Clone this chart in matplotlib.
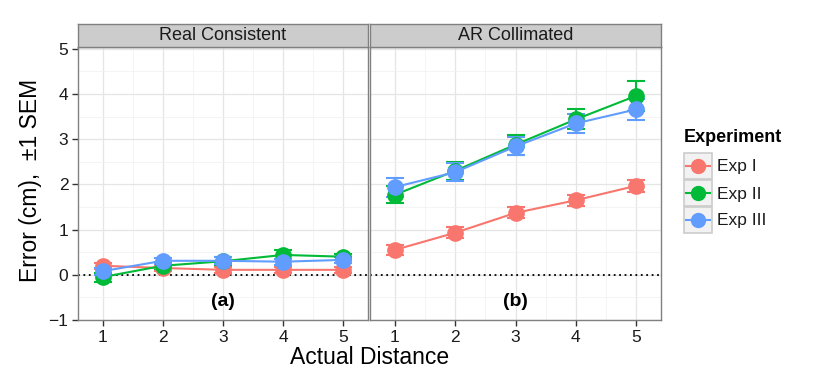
import numpy as np
import matplotlib
matplotlib.use("Agg")
import matplotlib.pyplot as plt
from matplotlib.patches import Rectangle

plt.rcParams['font.family'] = ['Liberation Sans', 'DejaVu Sans']

# data
distance = [1, 2, 3, 4, 5]
experiments = ["Exp I", "Exp II", "Exp III"]
colors = ["#F8766D", "#00BA38", "#619CFF"]
panels = ["Real Consistent", "AR Collimated"]
panel_tags = ["(a)", "(b)"]

real_mean = {
    "Exp I":   [0.20, 0.15, 0.11, 0.11, 0.11],
    "Exp II":  [-0.05, 0.20, 0.30, 0.44, 0.40],
    "Exp III": [0.08, 0.31, 0.31, 0.29, 0.33],
}
real_sem = {
    "Exp I":   [0.07, 0.06, 0.06, 0.06, 0.06],
    "Exp II":  [0.10, 0.08, 0.09, 0.10, 0.07],
    "Exp III": [0.08, 0.07, 0.08, 0.07, 0.06],
}
ar_mean = {
    "Exp I":   [0.55, 0.93, 1.37, 1.65, 1.97],
    "Exp II":  [1.77, 2.30, 2.88, 3.44, 3.96],
    "Exp III": [1.94, 2.27, 2.84, 3.35, 3.66],
}
ar_sem = {
    "Exp I":   [0.12, 0.12, 0.12, 0.12, 0.13],
    "Exp II":  [0.19, 0.20, 0.22, 0.22, 0.33],
    "Exp III": [0.21, 0.20, 0.20, 0.21, 0.24],
}

W, H = 830, 386
fig = plt.figure(figsize=(W / 100, H / 100), dpi=100)

def px_rect(x0, y0, x1, y1):
    # pixel box (top-left origin) -> figure fraction
    return [x0 / W, 1 - y1 / H, (x1 - x0) / W, (y1 - y0) / H]

panel_x = [(78, 368), (370, 661)]
top, bottom, strip_top = 47, 320, 24
border = "#808080"

for k, (x0, x1) in enumerate(panel_x):
    ax = fig.add_axes(px_rect(x0, top, x1, bottom))
    means = real_mean if k == 0 else ar_mean
    sems = real_sem if k == 0 else ar_sem

    ax.set_xlim(0.59, 5.41)
    ax.set_ylim(-1.0, 5.04)
    ax.set_xticks(distance)
    ax.set_yticks([-1, 0, 1, 2, 3, 4, 5])
    ax.set_xticks(np.arange(1.5, 5.5, 1.0), minor=True)
    ax.set_yticks(np.arange(-0.5, 5.0, 1.0), minor=True)
    ax.grid(True, which="major", color="#E5E5E5", lw=0.9)
    ax.grid(True, which="minor", color="#F2F2F2", lw=0.6)
    ax.set_axisbelow(True)
    for s in ax.spines.values():
        s.set_color(border)
        s.set_linewidth(1.0)
    ax.tick_params(axis="both", which="major", length=4, width=1.0,
                   color="#333333", labelsize=12.5, labelcolor="#1a1a1a", pad=3)
    ax.tick_params(which="minor", length=0)
    if k == 1:
        ax.tick_params(axis="y", left=False, labelleft=False)

    ax.axhline(0, color="black", ls=(0, (1, 2)), lw=1.3, zorder=1)

    for name, c in zip(experiments, colors):
        ax.errorbar(distance, means[name], yerr=sems[name], color=c, lw=1.5,
                    marker="o", ms=11, capsize=6.5, capthick=1.5,
                    elinewidth=1.5, zorder=3)

    ax.text(3, -0.58, panel_tags[k], ha="center", va="center",
            fontsize=14, fontweight="bold")

    sax = fig.add_axes(px_rect(x0, strip_top, x1, top))
    sax.set_facecolor("#CCCCCC")
    sax.set_xticks([])
    sax.set_yticks([])
    for s in sax.spines.values():
        s.set_color(border)
        s.set_linewidth(1.0)
    sax.text(0.5, 0.48, panels[k], ha="center", va="center", fontsize=13,
             color="#1a1a1a", transform=sax.transAxes)

fig.text(370 / W, 1 - 358 / H, "Actual Distance", ha="center", va="center",
         fontsize=16.5)
fig.text(30 / W, 1 - 180 / H, "Error (cm),  \u00b11 SEM", ha="center",
         va="center", rotation=90, fontsize=16.5)

# legend drawn in its own pixel-space axes
lax = fig.add_axes([0, 0, 1, 1])
lax.set_xlim(0, W)
lax.set_ylim(H, 0)
lax.axis("off")
lax.text(684, 138, "Experiment", ha="left", va="center", fontsize=13,
         fontweight="bold")
key_y = [166, 193, 220]
for name, c, yc in zip(experiments, colors, key_y):
    lax.add_patch(Rectangle((684, yc - 13), 28, 26, facecolor="#F2F2F2",
                            edgecolor="#CCCCCC", lw=1.2))
    lax.plot([686, 710], [yc, yc], color=c, lw=1.5)
    lax.plot([698], [yc], "o", color=c, ms=10)
    lax.text(717, yc + 1, name, ha="left", va="center", fontsize=12.5,
             color="#1a1a1a")

fig.savefig("out.png", dpi=100)
